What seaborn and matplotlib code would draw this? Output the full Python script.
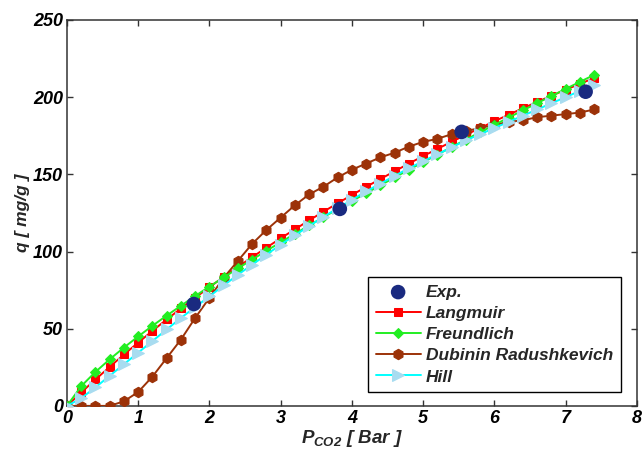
import pandas as pd
import seaborn as sns
import matplotlib.pyplot as plt

# pressure grid of the model curves [bar]
p_model = [0.0, 0.2, 0.4, 0.6, 0.8, 1.0, 1.2, 1.4, 1.6, 1.8, 2.0, 2.2, 2.4, 2.6, 2.8,
           3.0, 3.2, 3.4, 3.6, 3.8, 4.0, 4.2, 4.4, 4.6, 4.8, 5.0, 5.2, 5.4, 5.6, 5.8,
           6.0, 6.2, 6.4, 6.6, 6.8, 7.0, 7.2, 7.4]

# experimental points
p_exp = [1.78, 3.83, 5.54, 7.28]
q_exp = [66, 127.6, 177.5, 203.5]

q_langmuir = [0, 8.7, 17.1, 25.3, 33.3, 41.0, 48.6, 56.0, 63.1, 70.1, 76.9, 83.6, 90.0,
              96.4, 102.5, 108.6, 114.4, 120.2, 125.8, 131.3, 136.6, 141.9, 147.0, 152.0,
              157.0, 161.8, 166.5, 171.1, 175.6, 180.0, 184.4, 188.6, 192.8, 196.9,
              200.9, 204.8, 208.6, 212.4]
q_freundlich = [0, 12.8, 22.0, 30.2, 37.8, 45.0, 51.9, 58.5, 64.9, 71.2, 77.3, 83.2, 89.1,
                94.8, 100.5, 106.0, 111.5, 116.9, 122.2, 127.5, 132.7, 137.8, 142.9, 148.0,
                153.0, 157.9, 162.8, 167.7, 172.5, 177.3, 182.0, 186.8, 191.4, 196.1,
                200.7, 205.3, 209.9, 214.4]
q_dubinin = [0, 0, 0, 0, 3, 9, 19, 31, 43, 57, 70, 83, 94, 105, 114, 122, 130, 137, 142,
             148, 153, 157, 161, 164, 168, 171, 173, 176, 178, 180, 182, 184, 185, 187,
             188, 189, 190, 192]
q_hill = [0, 5, 12, 19.5, 27, 34.5, 42, 49.5, 57, 64, 71, 78, 85, 91.5, 98, 104.5, 110.5,
          116.5, 122.5, 128, 133.5, 139, 144, 149, 154, 158.5, 163, 167.5, 172, 176, 180,
          184, 188, 192, 196, 200, 204, 208]

sns.set_style("ticks")
plt.rcParams['font.family'] = ['Liberation Sans', 'DejaVu Sans']
plt.rcParams['mathtext.fontset'] = 'custom'
plt.rcParams['mathtext.it'] = 'Liberation Sans:italic:bold'
plt.rcParams['mathtext.rm'] = 'Liberation Sans:italic:bold'
plt.rcParams['mathtext.bf'] = 'Liberation Sans:italic:bold'

df = pd.DataFrame({'P': p_model, 'Langmuir': q_langmuir, 'Freundlich': q_freundlich,
                   'Dubinin Radushkevich': q_dubinin, 'Hill': q_hill})
df_exp = pd.DataFrame({'P': p_exp, 'q': q_exp})

fig = plt.figure(figsize=(6.44, 4.53), dpi=100)
ax = fig.add_axes([0.104, 0.104, 0.885, 0.852])

sns.lineplot(x='P', y='Langmuir', data=df, ax=ax, color='#ff0000', lw=1.4,
             marker='s', markersize=6, markeredgecolor='#ff0000', label='Langmuir', zorder=3)
sns.lineplot(x='P', y='Freundlich', data=df, ax=ax, color='#22ee22', lw=1.4,
             marker='D', markersize=5.5, markeredgecolor='#22ee22', label='Freundlich', zorder=4)
sns.lineplot(x='P', y='Dubinin Radushkevich', data=df, ax=ax, color='#9c3208', lw=1.4,
             marker='h', markersize=7.5, markeredgecolor='#9c3208',
             label='Dubinin Radushkevich', zorder=3)
sns.lineplot(x='P', y='Hill', data=df, ax=ax, color='#00ffff', lw=1.4,
             marker='>', markersize=8.5, markerfacecolor='#a8dcf0', markeredgecolor='#a8dcf0',
             label='Hill', zorder=5)
sns.scatterplot(x='P', y='q', data=df_exp, ax=ax, color='#1a2a80', s=110,
                edgecolor='none', label='Exp.', zorder=6)

ax.set_xlim(0, 8)
ax.set_ylim(0, 250)
ax.set_xticks(range(0, 9))
ax.set_yticks([0, 50, 100, 150, 200, 250])
ax.tick_params(direction='in', top=True, right=True, length=4, width=1, colors='#333333',
               labelcolor='black', labelsize=13, pad=3)
for lab in ax.get_xticklabels() + ax.get_yticklabels():
    lab.set_fontweight('bold')
    lab.set_fontstyle('italic')
for sp in ax.spines.values():
    sp.set_visible(True)
    sp.set_linewidth(1.1)
    sp.set_color('#333333')

ax.set_xlabel(r'$P_{CO2}$ [ Bar ]', fontsize=13.5, fontweight='bold', fontstyle='italic',
              labelpad=1)
ax.set_ylabel('q [ mg/g ]', fontsize=12.5, fontweight='bold', fontstyle='italic', labelpad=2)

handles, labels = ax.get_legend_handles_labels()
order = [labels.index(n) for n in ['Exp.', 'Langmuir', 'Freundlich',
                                   'Dubinin Radushkevich', 'Hill']]
leg = ax.legend([handles[i] for i in order], [labels[i] for i in order],
                loc='lower right', bbox_to_anchor=(0.972, 0.035), frameon=True,
                fancybox=False, edgecolor='black', framealpha=1, handlelength=2.6,
                handletextpad=0.3, borderpad=0.45, labelspacing=0.35, borderaxespad=0,
                prop={'weight': 'bold', 'style': 'italic', 'size': 12.5})
leg.get_frame().set_linewidth(1.0)

plt.savefig('out.png', dpi=100)
